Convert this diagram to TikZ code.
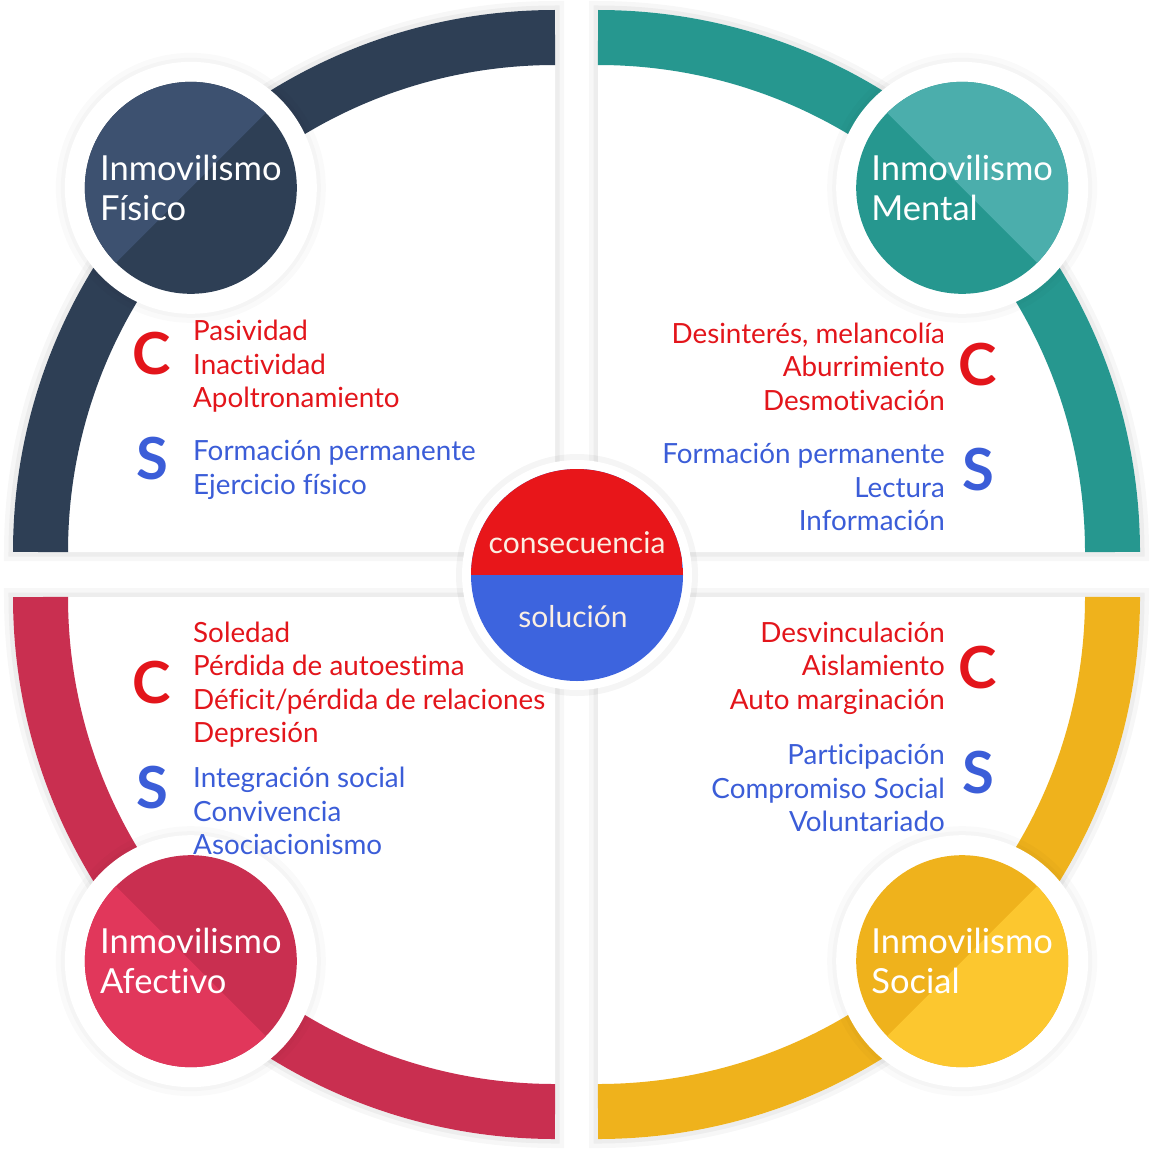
\documentclass[tikz,border=0pt]{standalone}
\usepackage{fontspec}
\setmainfont{Lato}[Ligatures=NoCommon]
\usepackage{xcolor}
\definecolor{navy-band}{HTML}{2E3F55}
\definecolor{navy-light}{HTML}{3D5170}
\definecolor{teal-band}{HTML}{26978F}
\definecolor{teal-light}{HTML}{4BAEAC}
\definecolor{crimson-band}{HTML}{C92F50}
\definecolor{crimson-light}{HTML}{E1375B}
\definecolor{gold-band}{HTML}{EFB21C}
\definecolor{gold-light}{HTML}{FCC72F}
\definecolor{cons-red}{HTML}{E3151B}
\definecolor{sol-blue}{HTML}{3B5DD8}
\definecolor{core-red}{HTML}{E8161A}
\definecolor{core-blue}{HTML}{3D64DE}
\definecolor{core-text}{HTML}{FBEFE2}
\tikzset{
    quarter-box/.style = {fill=white, line join=round,
        preaction={draw=black, draw opacity=0.03, line width=18pt},
        preaction={draw=black, draw opacity=0.04, line width=9pt}},
    band/.style = {draw=#1, line width=55pt},
    badge-circle/.style n args = {3}{circle, inner sep=0pt, minimum size=212pt, fill=#1, text=white, align=left, font=\fontsize{34.5}{40}\selectfont,
        preaction={draw=black, draw opacity=0.02, line width=58pt},
        preaction={draw=black, draw opacity=0.02, line width=48pt},
        preaction={fill=white, draw=white, line width=40pt},
        path picture={\fill[#2] (path picture bounding box.center) ++(#3:110pt) arc[start angle=#3, delta angle=180, radius=110pt] -- cycle;}},
    core-circle/.style = {circle, inner sep=0pt, minimum size=212pt, fill=core-blue,
        preaction={draw=black, draw opacity=0.04, line width=30pt},
        preaction={fill=white, draw=white, line width=18pt},
        path picture={\fill[core-red] (path picture bounding box.west) rectangle (path picture bounding box.north east);}},
    core-label/.style = {text=core-text, font=\fontsize{30}{36}\selectfont, inner sep=0pt},
    item-cons/.style = {text=cons-red, font=\fontsize{27.8}{33.5}\selectfont, inner sep=0pt},
    item-sol/.style = {text=sol-blue, font=\fontsize{27.8}{33.5}\selectfont, inner sep=0pt},
    letter/.style = {font=\fontsize{58}{58}\selectfont\bfseries, inner sep=0pt},
}
\begin{document}
\begin{tikzpicture}[x=1pt, y=1pt]
\useasboundingbox[fill=white] (0,0) rectangle (1150,-1148);
\coordinate (q-fisico) at (555,-552);
\coordinate (q-mental) at (598,-552);
\coordinate (q-afectivo) at (555,-597);
\coordinate (q-social) at (598,-597);

% quarters and their bands
\foreach \q/\a/\col in {fisico/90/navy-band, mental/0/teal-band, afectivo/180/crimson-band, social/270/gold-band}{
    \path[quarter-box] (q-\q) -- ++(\a:542) arc[start angle=\a, delta angle=90, radius=542] -- cycle;
    \draw[band=\col] (q-\q) ++(\a:514.5) arc[start angle=\a, delta angle=90, radius=514.5];
}

% badges
\node[badge-circle={navy-band}{navy-light}{45}] (fisico) at ([shift={(135:515)}]q-fisico) {Inmovilismo\\Físico};
\node[badge-circle={teal-band}{teal-light}{-45}] (mental) at ([shift={(45:515)}]q-mental) {Inmovilismo\\Mental};
\node[badge-circle={crimson-band}{crimson-light}{135}] (afectivo) at ([shift={(225:515)}]q-afectivo) {Inmovilismo\\Afectivo};
\node[badge-circle={gold-band}{gold-light}{225}] (social) at ([shift={(315:515)}]q-social) {Inmovilismo\\Social};

% centre
\node[core-circle] (core) at (577,-575) {};
\node[core-label] (core-cons) at (577,-543) {consecuencia};
\node[core-label] (core-sol) at (573,-617) {solución};

% fisico
\node[letter, text=cons-red] (fisico-c) at (152,-354) {C};
\node[item-cons, anchor=west, align=left] (fisico-cons) at (193,-366.5) {Pasividad\\Inactividad\\Apoltronamiento};
\node[letter, text=sol-blue] (fisico-s) at (152,-459) {S};
\node[item-sol, anchor=west, align=left] (fisico-sol) at (193,-470) {Formación permanente\\Ejercicio físico};

% mental
\node[letter, text=cons-red] (mental-c) at (978,-365) {C};
\node[item-cons, anchor=east, align=right] (mental-cons) at (945,-366.5) {Desinterés, melancolía\\Aburrimiento\\Desmotivación};
\node[letter, text=sol-blue] (mental-s) at (978,-470) {S};
\node[item-sol, anchor=east, align=right] (mental-sol) at (945,-487) {Formación permanente\\Lectura\\Información};

% afectivo
\node[letter, text=cons-red] (afectivo-c) at (152,-683) {C};
\node[item-cons, anchor=west, align=left] (afectivo-cons) at (193,-684.75) {Soledad\\Pérdida de autoestima\\Déficit/pérdida de relaciones\\Depresión};
\node[letter, text=sol-blue] (afectivo-s) at (152,-788) {S};
\node[item-sol, anchor=west, align=left] (afectivo-sol) at (193,-811) {Integración social\\Convivencia\\Asociacionismo};

% social
\node[letter, text=cons-red] (social-c) at (978,-668) {C};
\node[item-cons, anchor=east, align=right] (social-cons) at (945,-668) {Desvinculación\\Aislamiento\\Auto marginación};
\node[letter, text=sol-blue] (social-s) at (978,-773) {S};
\node[item-sol, anchor=east, align=right] (social-sol) at (945,-788) {Participación\\Compromiso Social\\Voluntariado};
\end{tikzpicture}
\end{document}
